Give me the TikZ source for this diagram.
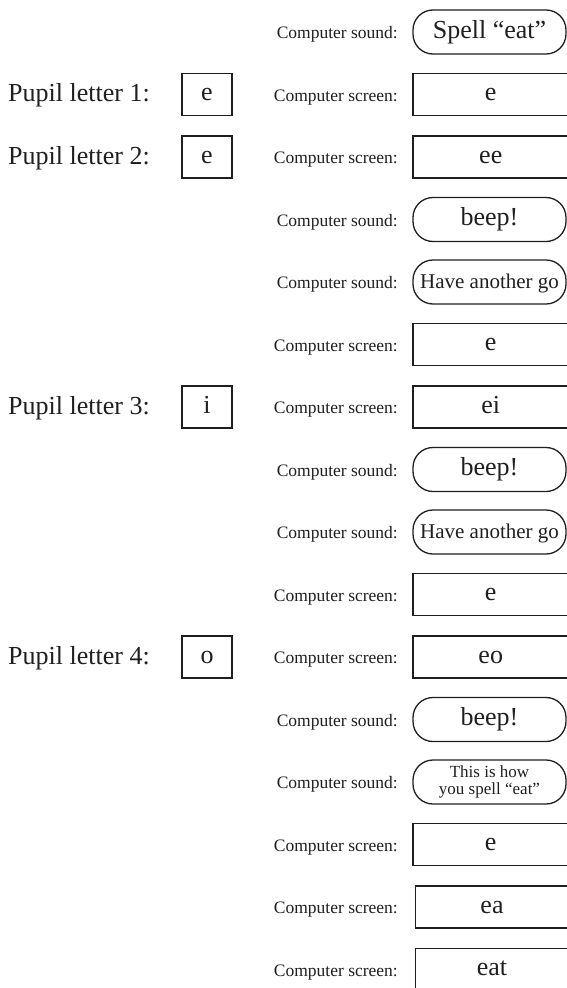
\documentclass[tikz,border=0pt]{standalone}
\usepackage{fontspec}
\setmainfont{Liberation Serif}
\definecolor{ink}{gray}{0.12}
\begin{document}
\begin{tikzpicture}[x=1pt,y=-1pt,
  every node/.style={text=ink},
  lab/.style={anchor=base east, inner sep=0pt, font=\fontsize{17.5}{20}\selectfont},
  pupil/.style={anchor=base west, inner sep=0pt, font=\fontsize{26}{30}\selectfont},
  boxbase/.style={draw=ink, line width=1.3pt, inner sep=0pt,
    font=\fontsize{26}{30}\selectfont, text height=18pt, text depth=6pt},
  screenbox/.style={boxbase, minimum width=155.5pt, minimum height=42pt},
  soundbox/.style={boxbase, rounded corners=20pt, minimum width=153pt, minimum height=44pt},
  smallsound/.style={soundbox, font=\fontsize{21}{24}\selectfont},
  letterbox/.style={boxbase, minimum width=50pt, minimum height=42pt}
]
\useasboundingbox (0,0) rectangle (567,988);

% ---- pupil entries (left column) ----
\node[pupil] (p1) at (8,101.5) {Pupil letter 1:};
\node[letterbox] (pb1) at (207,94.5) {e};
\node[pupil] (p2) at (8,164) {Pupil letter 2:};
\node[letterbox] (pb2) at (207,157) {e};
\node[pupil] (p3) at (8,414) {Pupil letter 3:};
\node[letterbox] (pb3) at (207,407) {i};
\node[pupil] (p4) at (8,664) {Pupil letter 4:};
\node[letterbox] (pb4) at (207,657) {o};

% ---- computer responses (right column) ----
\node[lab] (l1) at (398,38.5) {Computer sound:};
\node[soundbox] (c1) at (489.5,32) {Spell “eat”};

\node[lab] (l2) at (398,101) {Computer screen:};
\node[screenbox] (c2) at (490.75,94.5) {e};

\node[lab] (l3) at (398,163.5) {Computer screen:};
\node[screenbox] (c3) at (490.75,157) {ee};

\node[lab] (l4) at (398,226) {Computer sound:};
\node[soundbox] (c4) at (489.5,219.5) {beep!};

\node[lab] (l5) at (398,288.5) {Computer sound:};
\node[smallsound] (c5) at (489.5,282) {Have another go};

\node[lab] (l6) at (398,351) {Computer screen:};
\node[screenbox] (c6) at (490.75,344.5) {e};

\node[lab] (l7) at (398,413.5) {Computer screen:};
\node[screenbox] (c7) at (490.75,407) {ei};

\node[lab] (l8) at (398,476) {Computer sound:};
\node[soundbox] (c8) at (489.5,469.5) {beep!};

\node[lab] (l9) at (398,538.5) {Computer sound:};
\node[smallsound] (c9) at (489.5,532) {Have another go};

\node[lab] (l10) at (398,601) {Computer screen:};
\node[screenbox] (c10) at (490.75,594.5) {e};

\node[lab] (l11) at (398,663.5) {Computer screen:};
\node[screenbox] (c11) at (490.75,657) {eo};

\node[lab] (l12) at (398,726) {Computer sound:};
\node[soundbox] (c12) at (489.5,719.5) {beep!};

\node[lab] (l13) at (398,788.5) {Computer sound:};
\node[draw=ink, line width=1.3pt, rounded corners=20pt, minimum width=153pt,
  minimum height=44pt, inner sep=0pt, align=center,
  font=\fontsize{17}{16.5}\selectfont] (c13) at (489.5,782)
  {This is how\\you spell “eat”};

\node[lab] (l14) at (398,851) {Computer screen:};
\node[screenbox] (c14) at (490.75,844.5) {e};

\node[lab] (l15) at (398,913.5) {Computer screen:};
\node[screenbox, minimum width=153pt] (c15) at (492,907) {ea};

\node[lab] (l16) at (398,976) {Computer screen:};
\node[screenbox, minimum width=153pt] (c16) at (492,969.5) {eat};
\end{tikzpicture}
\end{document}
